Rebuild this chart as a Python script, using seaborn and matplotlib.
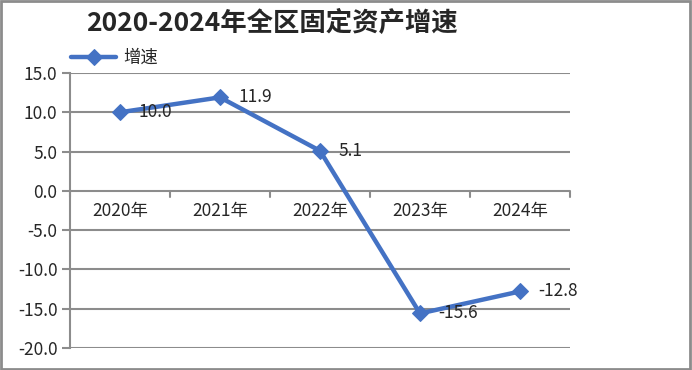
import matplotlib.pyplot as plt
import seaborn as sns
import pandas as pd

years = ['2020年', '2021年', '2022年', '2023年', '2024年']
growth = [10.0, 11.9, 5.1, -15.6, -12.8]
y_ticks = [15, 10, 5, 0, -5, -10, -15, -20]

sns.set_style('white')
plt.rcParams['font.family'] = ['Noto Sans CJK SC', 'DejaVu Sans']

df = pd.DataFrame({'year': years, 'growth': growth})
blue = '#4472C4'
grid = '#8C8C8C'
fs = 12.5

fig = plt.figure(figsize=(6.92, 3.70), dpi=100)
ax = fig.add_axes([70 / 692, 1 - 348 / 370, 500 / 692, 275 / 370])

sns.lineplot(data=df, x='year', y='growth', ax=ax, color=blue, linewidth=3.2,
             marker='D', markersize=8, markeredgecolor=blue, sort=False, label='增速')

ax.set_xlim(-0.5, len(years) - 0.5)
ax.set_ylim(-20, 15)
ax.set_yticks(y_ticks)
ax.set_yticklabels([f'{v:.1f}' for v in y_ticks], fontsize=fs)
for v in y_ticks:
    ax.axhline(v, color=grid, linewidth=1.5, zorder=0)

for s in ['top', 'right', 'bottom']:
    ax.spines[s].set_visible(False)
ax.spines['left'].set_color(grid)
ax.spines['left'].set_linewidth(1.5)
ax.tick_params(axis='y', length=6, width=1.5, color=grid, left=True, pad=3)
ax.set_xlabel('')
ax.set_ylabel('')

# category labels sit on the zero line
ax.set_xticks([])
for i, yr in enumerate(years):
    ax.text(i, -1.4, yr, ha='center', va='top', fontsize=fs)
for i in range(len(years) + 1):
    ax.plot([i - 0.5, i - 0.5], [0, -0.8], color=grid, linewidth=1.5, clip_on=False, zorder=0)

for i, v in enumerate(growth):
    ax.annotate(f'{v:.1f}', (i, v), xytext=(13, 0), textcoords='offset points',
                ha='left', va='center', fontsize=fs)

ax.legend(loc='center left', bbox_to_anchor=(0.002, 1.055), frameon=False, fontsize=fs,
          handlelength=2.6, handletextpad=0.4, borderaxespad=0, borderpad=0)

fig.text(272 / 692, 1 - 23 / 370, '2020-2024年全区固定资产增速', ha='center', va='center',
         fontsize=19, fontweight='bold')

fig.patches.append(plt.Rectangle((0.002, 0.003), 0.995, 0.993, transform=fig.transFigure,
                                 fill=False, edgecolor=grid, linewidth=2))

fig.savefig('out.png', dpi=100)
